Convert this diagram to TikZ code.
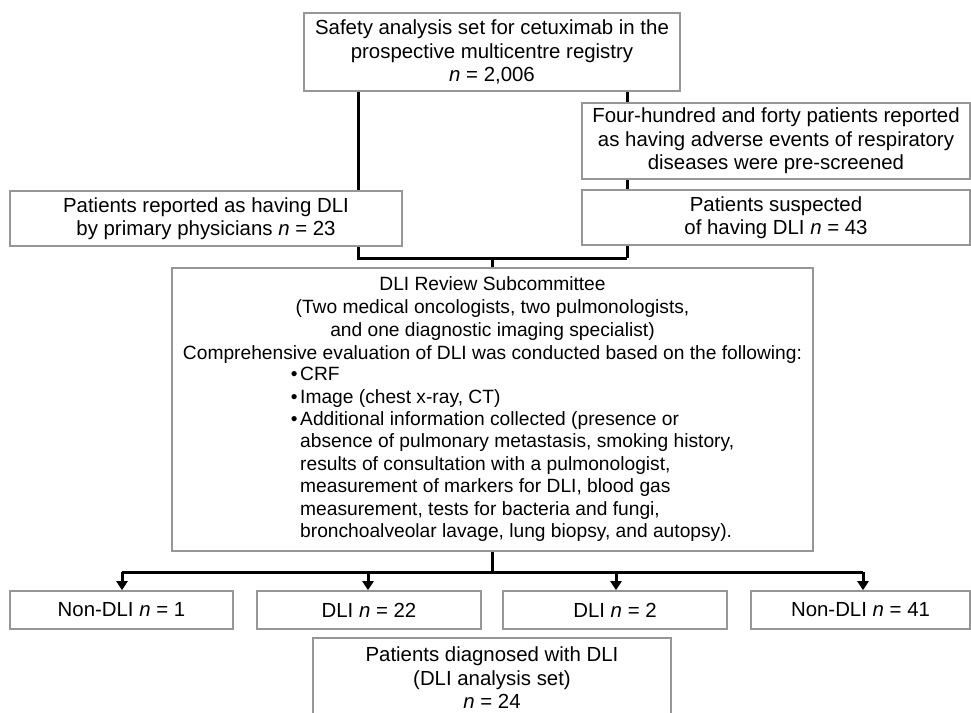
\documentclass[tikz,border=0pt]{standalone}
\usepackage{fontspec}
\setmainfont{Liberation Sans}
\usetikzlibrary{arrows.meta}
\definecolor{boxgray}{RGB}{150,150,150}
\newcommand\mainsize{\fontsize{20.4}{23.5}\selectfont}
\newcommand\revheadsize{\fontsize{19.2}{23}\selectfont}
\newcommand\revlistsize{\fontsize{19.2}{22.4}\selectfont}
\tikzset{
  box/.style={draw=boxgray, line width=1.6pt, fill=white, inner sep=0pt, align=center, font=\mainsize},
  conn/.style={line width=3pt, black, line join=miter},
  arr/.style={conn, -{Triangle[length=9pt,width=11pt]}},
}
\begin{document}
\begin{tikzpicture}[x=1pt,y=-1pt]
\useasboundingbox (0,0) rectangle (971,712);
\clip (0,0) rectangle (971,712);
% boxes
\node[box, minimum width=376, minimum height=78] (top) at (492,52)
  {Safety analysis set for cetuximab in the\\prospective multicentre registry\\\textit{n} = 2,006};
\node[box, minimum width=388, minimum height=76] (fourh) at (776,141)
  {Four-hundred and forty patients reported\\as having adverse events of respiratory\\diseases were pre-screened};
\node[box, minimum width=388, minimum height=55] (susp) at (776,217.5)
  {Patients suspected\\of having DLI \textit{n} = 43};
\node[box, minimum width=392, minimum height=55] (rep) at (206,218.5)
  {Patients reported as having DLI\\by primary physicians \textit{n} = 23};
\node[box, minimum width=641, minimum height=283] (rev) at (492.5,409.5) {};
\node[align=center, font=\revheadsize, inner sep=0pt] (revhead) at (492.5,320)
  {DLI Review Subcommittee\\(Two medical oncologists, two pulmonologists,\\and one diagnostic imaging specialist)\\Comprehensive evaluation of DLI was conducted based on the following:};
\node[align=left, font=\revlistsize, inner sep=0pt, anchor=north west] (revlist) at (300,367)
  {\llap{\textbullet\hspace{2.5pt}}CRF\\
   \llap{\textbullet\hspace{2.5pt}}Image (chest x-ray, CT)\\
   \llap{\textbullet\hspace{2.5pt}}Additional information collected (presence or\\
   absence of pulmonary metastasis, smoking history,\\
   results of consultation with a pulmonologist,\\
   measurement of markers for DLI, blood gas\\
   measurement, tests for bacteria and fungi,\\
   bronchoalveolar lavage, lung biopsy, and autopsy).};
\node[box, minimum width=223, minimum height=38] (nd1) at (121.5,610) {Non-DLI \textit{n} = 1};
\node[box, minimum width=224, minimum height=38] (d22) at (369,610) {DLI \textit{n} = 22};
\node[box, minimum width=224, minimum height=38] (d2) at (615,610) {DLI \textit{n} = 2};
\node[box, minimum width=219, minimum height=38] (nd41) at (860.5,610) {Non-DLI \textit{n} = 41};
\node[box, minimum width=358, minimum height=80] (final) at (492,678)
  {Patients diagnosed with DLI\\(DLI analysis set)\\\textit{n} = 24};
% connectors
\coordinate (jl) at (358,258);
\coordinate (jr) at (627,258);
\coordinate (jm) at (492,258);
\coordinate (hb) at (492,572);
\coordinate (h1) at (122,572);
\coordinate (h2) at (368,572);
\coordinate (h3) at (616,572);
\coordinate (h4) at (863,572);
\draw[conn] (top.south -| jl) -- (rep.north -| jl);
\draw[conn] (rep.south -| jl) -- (jl) -- (jr);
\draw[conn] (top.south -| jr) -- (fourh.north -| jr);
\draw[conn] (fourh.south -| jr) -- (susp.north -| jr);
\draw[conn] (susp.south -| jr) -- (jr);
\draw[conn] (jm) -- (jm |- rev.north);
\draw[conn] (hb |- rev.south) -- (hb);
\draw[conn] (h1) -- (h4);
\draw[arr] (h1) -- (h1 |- nd1.north);
\draw[arr] (h2) -- (h2 |- d22.north);
\draw[arr] (h3) -- (h3 |- d2.north);
\draw[arr] (h4) -- (h4 |- nd41.north);
\end{tikzpicture}
\end{document}
